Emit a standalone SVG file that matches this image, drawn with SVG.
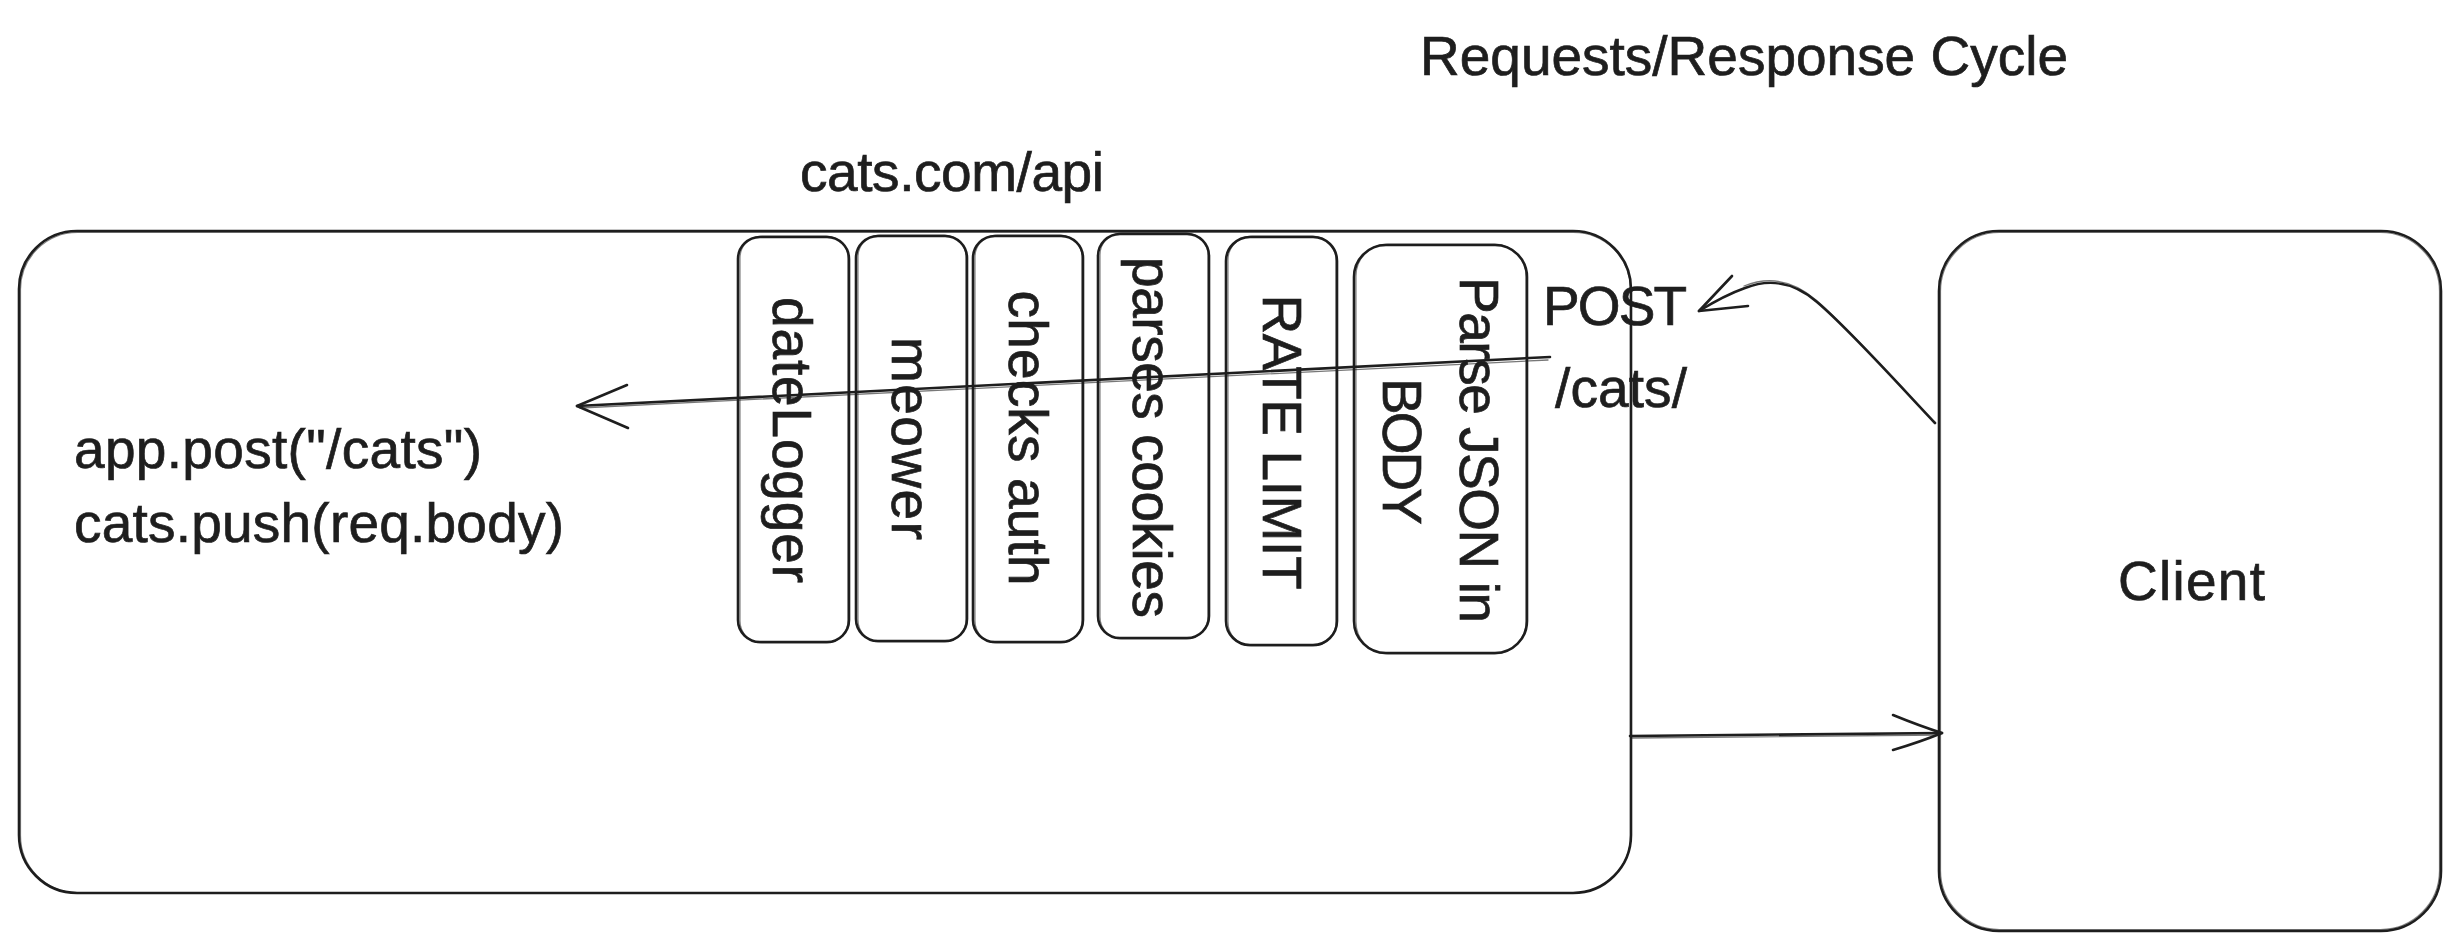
<svg xmlns="http://www.w3.org/2000/svg" width="2460" height="952" viewBox="0 0 2460 952">
  <style>
    .bg { fill: #ffffff; }
    .box { fill: none; stroke: #1e1e1e; stroke-width: 2.6; stroke-linejoin: round; }
    .box2 { fill: none; stroke: #1e1e1e; stroke-width: 1.2; opacity: 0.55; }
    .line { fill: none; stroke: #1e1e1e; stroke-width: 2.6; stroke-linecap: round; stroke-linejoin: round; }
    .line2 { fill: none; stroke: #1e1e1e; stroke-width: 1.3; stroke-linecap: round; opacity: 0.6; }
    .t { font-family: "Liberation Sans", Arial, sans-serif; font-size: 55px; fill: #1e1e1e; stroke: #1e1e1e; stroke-width: 0.7px; }
  </style>
  <rect class="bg" x="0" y="0" width="2460" height="952"/>

  <g id="title">
    <text class="t" x="1420" y="75" textLength="648">Requests/Response Cycle</text>
  </g>

  <g id="api-label">
    <text class="t" x="800" y="191" textLength="304">cats.com/api</text>
  </g>

  <g id="server">
    <rect class="box" x="19" y="231" width="1612" height="662" rx="58" ry="58"/>
    <rect class="box2" x="20.5" y="232.5" width="1610" height="660" rx="57" ry="57"/>
    <text class="t" x="74" y="468" textLength="408">app.post("/cats")</text>
    <text class="t" x="74" y="542" textLength="490">cats.push(req.body)</text>
  </g>

  <g id="mw-datelogger">
    <rect class="box" x="738" y="237" width="111" height="405" rx="22" ry="22"/>
    <rect class="box2" x="740" y="236" width="108" height="407" rx="22" ry="22"/>
    <text class="t" transform="translate(773,440) rotate(90)" text-anchor="middle" textLength="286">dateLogger</text>
  </g>

  <g id="mw-meower">
    <rect class="box" x="856" y="236" width="111" height="405" rx="22" ry="22"/>
    <rect class="box2" x="858" y="235" width="108" height="407" rx="22" ry="22"/>
    <text class="t" transform="translate(892,438.5) rotate(90)" text-anchor="middle" textLength="203">meower</text>
  </g>

  <g id="mw-checks-auth">
    <rect class="box" x="973" y="236" width="110" height="406" rx="22" ry="22"/>
    <rect class="box2" x="975" y="235" width="107" height="408" rx="22" ry="22"/>
    <text class="t" transform="translate(1009,438) rotate(90)" text-anchor="middle" textLength="295">checks auth</text>
  </g>

  <g id="mw-parses-cookies">
    <rect class="box" x="1098" y="234" width="111" height="404" rx="22" ry="22"/>
    <rect class="box2" x="1100" y="233" width="108" height="406" rx="22" ry="22"/>
    <text class="t" transform="translate(1133,437.5) rotate(90)" text-anchor="middle" textLength="361">parses cookies</text>
  </g>

  <g id="mw-rate-limit">
    <rect class="box" x="1226" y="237" width="111" height="408" rx="24" ry="24"/>
    <rect class="box2" x="1228" y="236" width="108" height="410" rx="24" ry="24"/>
    <text class="t" transform="translate(1263,442) rotate(90)" text-anchor="middle" textLength="295">RATE LIMIT</text>
  </g>

  <g id="mw-parse-json">
    <rect class="box" x="1354" y="245" width="173" height="408" rx="32" ry="32"/>
    <rect class="box2" x="1356" y="244" width="170" height="410" rx="32" ry="32"/>
    <text class="t" transform="translate(1460,450) rotate(90)" text-anchor="middle" textLength="346">Parse JSON in</text>
    <text class="t" transform="translate(1383,451.5) rotate(90)" text-anchor="middle" textLength="147">BODY</text>
  </g>

  <g id="request-label">
    <text class="t" x="1543" y="325" textLength="144">POST</text>
    <text class="t" x="1555" y="407" textLength="132">/cats/</text>
  </g>

  <g id="client">
    <rect class="box" x="1939" y="231" width="502" height="700" rx="60" ry="60"/>
    <rect class="box2" x="1940.5" y="232.5" width="499" height="697" rx="59" ry="59"/>
    <text class="t" x="2118" y="600" textLength="147">Client</text>
  </g>

  <g id="connectors">
    <!-- Client to POST request (curved) -->
    <path class="line" d="M1935 423 C1900 386, 1850 330, 1817 302 C1795 283, 1770 278, 1745 288 C1728 294, 1712 303, 1699 311"/>
    <path class="line2" d="M1933 421 C1898 384, 1849 328, 1816 300 C1794 281, 1769 276, 1744 286"/>
    <path class="line" d="M1732 276 L1699 311 L1748 306"/>
    <!-- POST into handler -->
    <path class="line" d="M1550 357 L577 406"/>
    <path class="line2" d="M1548 360 L580 408"/>
    <path class="line" d="M627 385 L577 406 L628 428"/>
    <!-- response back to client -->
    <path class="line" d="M1630 736 L1942 733"/>
    <path class="line2" d="M1632 738 L1940 735"/>
    <path class="line" d="M1893 715 Q1920 726 1942 733 Q1920 742 1893 750"/>
  </g>
</svg>
